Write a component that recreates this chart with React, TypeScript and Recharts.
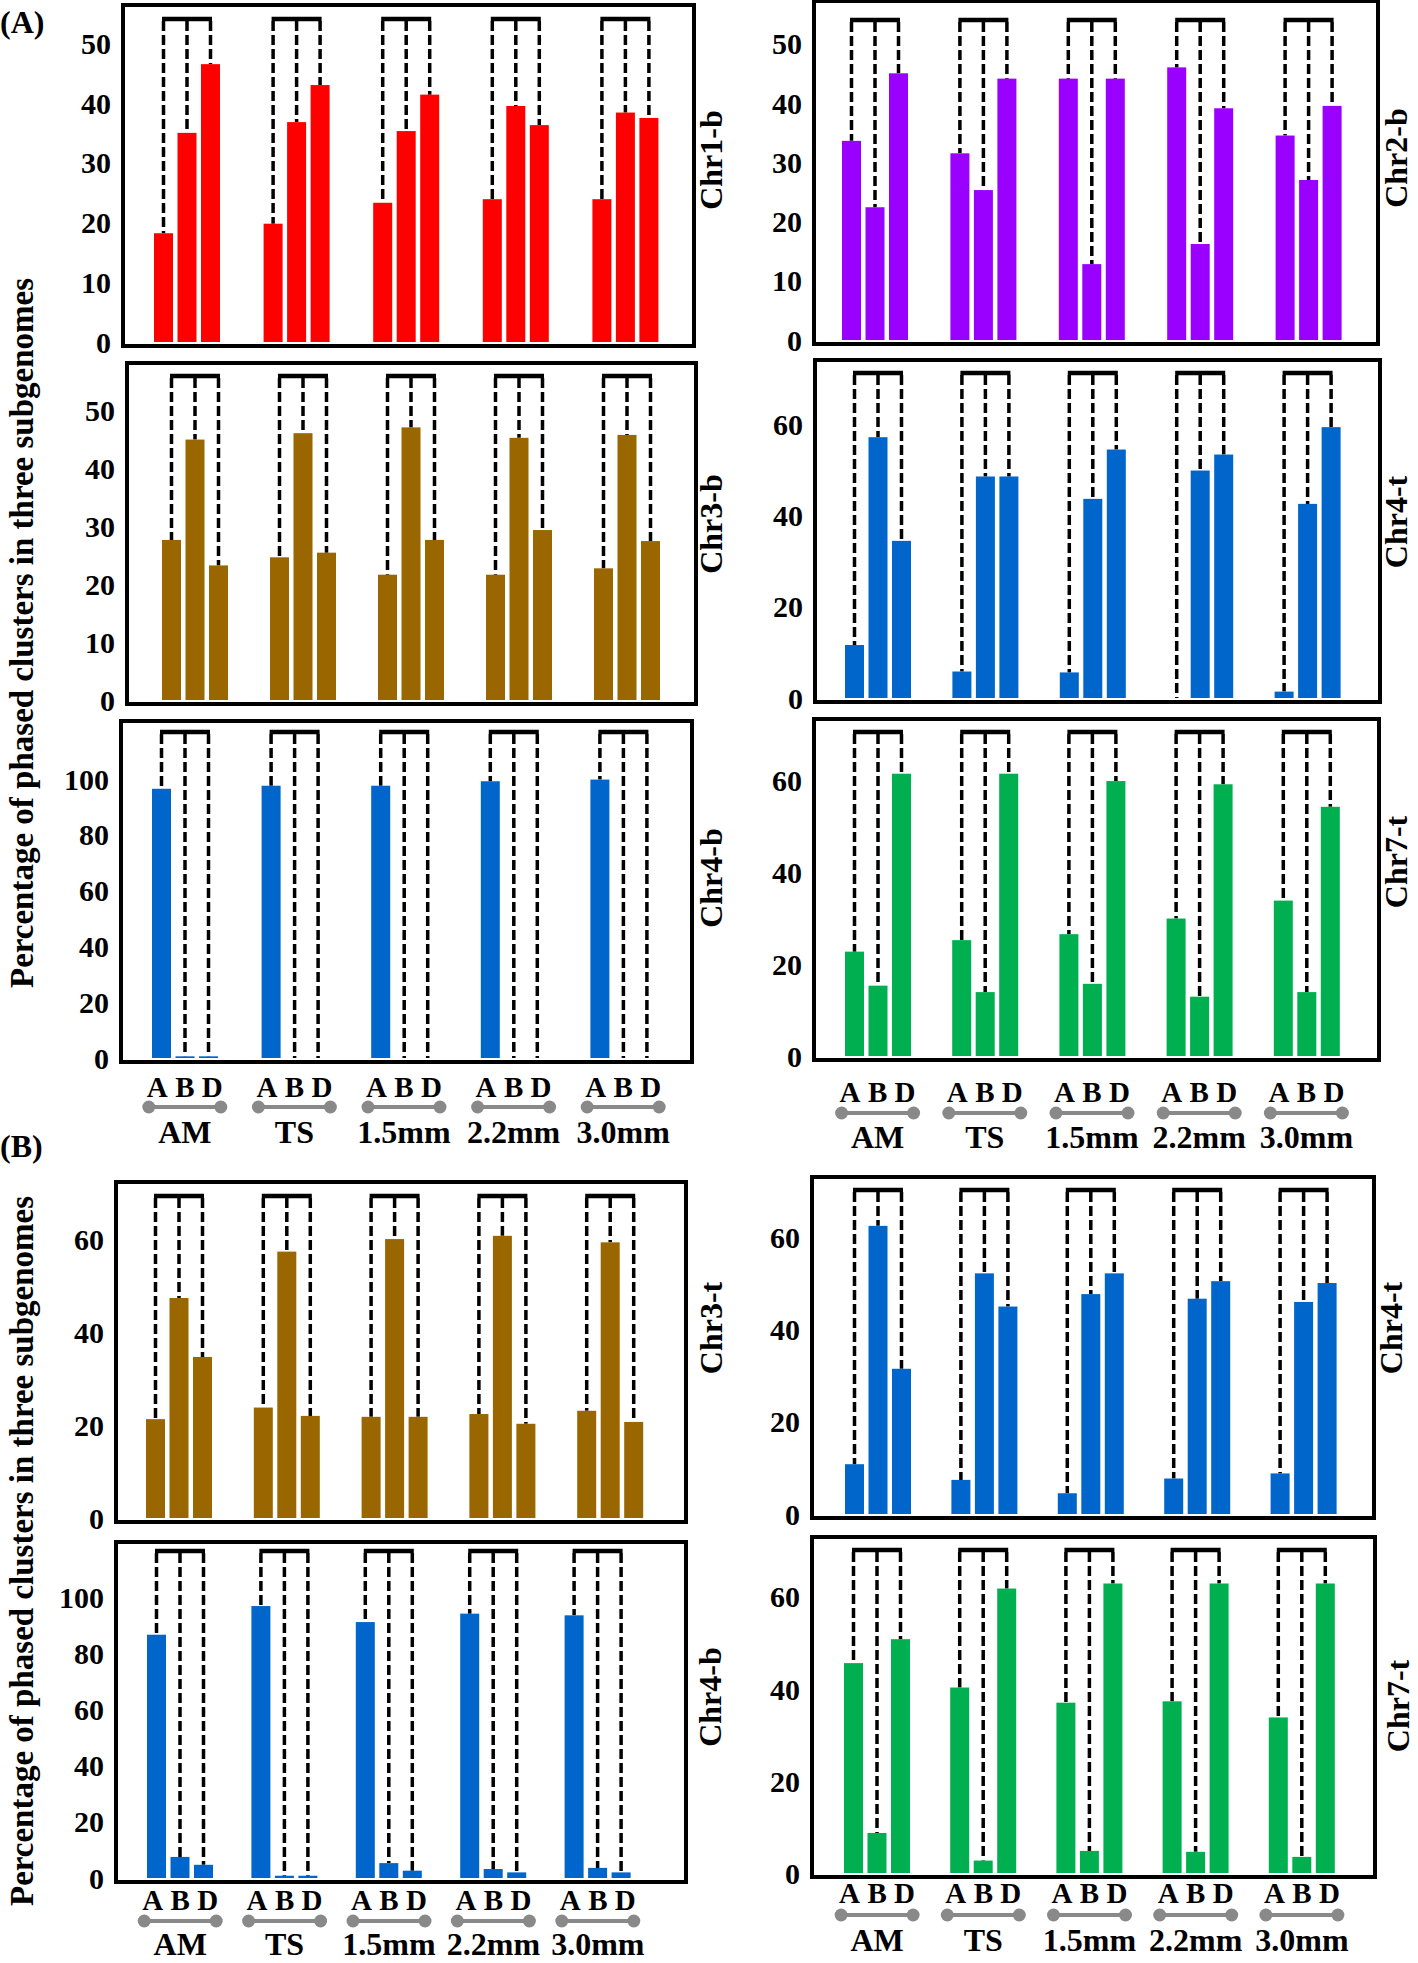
import { BarChart, Bar, XAxis, YAxis } from "recharts";

const FONT = '"Liberation Serif", "Times New Roman", serif';

const groups = ["AM", "TS", "1.5mm", "2.2mm", "3.0mm"];
const subgenomes = ["A", "B", "D"];

// (A) panels
const chr1bA = [18.2, 19.8, 23.3, 23.9, 23.9];
const chr1bB = [35.0, 36.8, 35.3, 39.5, 38.4];
const chr1bD = [46.5, 43.0, 41.4, 36.3, 37.5];

const chr2bA = [33.6, 31.5, 44.1, 46.0, 34.5];
const chr2bB = [22.4, 25.3, 12.8, 16.2, 27.0];
const chr2bD = [45.0, 44.1, 44.1, 39.1, 39.5];

const chr3bA = [27.6, 24.6, 21.6, 21.6, 22.7];
const chr3bB = [44.9, 46.0, 47.0, 45.2, 45.7];
const chr3bD = [23.2, 25.4, 27.6, 29.3, 27.4];

const chr4tA1 = [11.6, 5.8, 5.6, 0, 1.4];
const chr4tB1 = [57.1, 48.5, 43.6, 49.8, 42.5];
const chr4tD1 = [34.4, 48.5, 54.4, 53.3, 59.3];

const chr4bA1 = [96.5, 97.6, 97.6, 99.2, 99.8];
const chr4bB1 = [0.6, 0, 0, 0, 0];
const chr4bD1 = [0.6, 0, 0, 0, 0];

const chr7tA1 = [22.7, 25.2, 26.5, 29.9, 33.8];
const chr7tB1 = [15.3, 13.9, 15.7, 12.9, 13.9];
const chr7tD1 = [61.4, 61.4, 59.8, 59.1, 54.2];

// (B) panels
const chr3tA = [21.3, 23.8, 21.8, 22.4, 23.1];
const chr3tB = [47.4, 57.4, 60.1, 60.8, 59.4];
const chr3tD = [34.7, 22.0, 21.8, 20.3, 20.7];

const chr4tA2 = [10.8, 7.4, 4.5, 7.7, 8.8];
const chr4tB2 = [62.5, 52.2, 47.7, 46.7, 46.0];
const chr4tD2 = [31.5, 45.0, 52.2, 50.5, 50.1];

const chr4bA2 = [86.6, 96.8, 91.1, 94.1, 93.5];
const chr4bB2 = [7.5, 0.8, 5.3, 3.2, 3.6];
const chr4bD2 = [4.7, 0.8, 2.6, 2.0, 2.0];

const chr7tA2 = [45.6, 40.3, 37.0, 37.3, 33.8];
const chr7tB2 = [8.7, 2.7, 4.8, 4.6, 3.5];
const chr7tD2 = [50.8, 61.8, 62.9, 62.9, 62.9];

const ticks50 = [0, 10, 20, 30, 40, 50];
const ticks60 = [0, 20, 40, 60];
const ticks100 = [0, 20, 40, 60, 80, 100];

const RED = "#FF0000";
const PURPLE = "#9900FF";
const BROWN = "#996600";
const BLUE = "#0066CC";
const GREEN = "#00B050";

const BAR = 19;
const GAP = 4.5;
const AXW = 80;

function rows(a: number[], b: number[], d: number[]) {
  return groups.map((g, i) => ({ group: g, A: a[i], B: b[i], D: d[i] }));
}

type XLab = { abd: number; line: number; label: number };
type PanelCfg = {
  name: string; color: string; data: ReturnType<typeof rows>;
  box: [number, number, number, number]; top: number; ticks: number[];
  pad: [number, number]; lead: number; nameAt: [number, number]; xlab?: XLab;
};

const panels: PanelCfg[] = [
  { name: "Chr1-b", color: RED, data: rows(chr1bA, chr1bB, chr1bD), box: [123, 5, 690, 342], top: 56.4, ticks: ticks50, pad: [9, 10], lead: 14, nameAt: [711, 160] },
  { name: "Chr2-b", color: PURPLE, data: rows(chr2bA, chr2bB, chr2bD), box: [814, 1, 1374, 340], top: 57.2, ticks: ticks50, pad: [7, 11], lead: 19, nameAt: [1396, 158] },
  { name: "Chr3-b", color: BROWN, data: rows(chr3bA, chr3bB, chr3bD), box: [127, 363, 692, 700], top: 58.1, ticks: ticks50, pad: [14, 11], lead: 13, nameAt: [711, 524] },
  { name: "Chr4-t", color: BLUE, data: rows(chr4tA1, chr4tB1, chr4tD1), box: [815, 360, 1376, 698], top: 74.0, ticks: ticks60, pad: [9, 15], lead: 13, nameAt: [1396, 522] },
  { name: "Chr4-b", color: BLUE, data: rows(chr4bA1, chr4bB1, chr4bD1), box: [121, 721, 688, 1058], top: 120.8, ticks: ticks100, pad: [9, 10], lead: 11, nameAt: [711, 878], xlab: { abd: 29, line: 49, label: 74 } },
  { name: "Chr7-t", color: GREEN, data: rows(chr7tA1, chr7tB1, chr7tD1), box: [814, 719, 1375, 1056], top: 73.3, ticks: ticks60, pad: [10, 15], lead: 13, nameAt: [1396, 862], xlab: { abd: 36, line: 57, label: 81 } },
  { name: "Chr3-t", color: BROWN, data: rows(chr3tA, chr3tB, chr3tD), box: [116, 1182, 682, 1518], top: 72.4, ticks: ticks60, pad: [9, 18], lead: 14, nameAt: [711, 1328] },
  { name: "Chr4-t", color: BLUE, data: rows(chr4tA2, chr4tB2, chr4tD2), box: [812, 1177, 1370, 1514], top: 73.1, ticks: ticks60, pad: [13, 13], lead: 13, nameAt: [1391, 1328] },
  { name: "Chr4-b", color: BLUE, data: rows(chr4bA2, chr4bB2, chr4bD2), box: [116, 1542, 682, 1878], top: 119.6, ticks: ticks100, pad: [12, 32], lead: 9, nameAt: [710, 1697], xlab: { abd: 22, line: 43, label: 66 } },
  { name: "Chr7-t", color: GREEN, data: rows(chr7tA2, chr7tB2, chr7tD2), box: [812, 1537, 1371, 1873], top: 73.0, ticks: ticks60, pad: [12, 16], lead: 13, nameAt: [1398, 1706], xlab: { abd: 20, line: 42, label: 67 } },
];

// bar + dashed lead line up to the bracket; the middle bar also draws the bracket
function leadShape(lead: number, key: string) {
  return (props: any) => {
    const { x, y, width, height, fill } = props;
    const cx = x + width / 2;
    const span = width + GAP;
    return (
      <g>
        <line x1={cx} x2={cx} y1={lead + 2} y2={y} stroke="#000" strokeWidth={3.5} strokeDasharray="10 4" />
        {key === "B" && (
          <line x1={cx - span - 1.5} x2={cx + span + 1.5} y1={lead} y2={lead} stroke="#000" strokeWidth={4.5} />
        )}
        <rect x={x} y={y} width={width} height={Math.max(height, 0)} fill={fill} />
      </g>
    );
  };
}

function GroupTick(props: any) {
  const { x, y, payload, xlab } = props;
  const lx = y + xlab.line;
  return (
    <g fontFamily={FONT} fontWeight={700} fill="#000">
      {subgenomes.map((s, i) => (
        <text key={s} x={x + (i - 1) * 27.5} y={y + xlab.abd + 10} textAnchor="middle" fontSize={29}>{s}</text>
      ))}
      <line x1={x - 36} x2={x + 36} y1={lx} y2={lx} stroke="#898989" strokeWidth={4} />
      <circle cx={x - 36} cy={lx} r={6.5} fill="#898989" />
      <circle cx={x + 36} cy={lx} r={6.5} fill="#898989" />
      <text x={x} y={y + xlab.label + 11} textAnchor="middle" fontSize={32}>{payload.value}</text>
    </g>
  );
}

function Panel({ p }: { p: PanelCfg }) {
  const [l, t, r, b] = p.box;
  const w = r - l;
  const h = b - t;
  const xh = p.xlab ? 110 : 0;
  const extra = p.xlab ? 0 : 22;
  return (
    <>
      <div style={{ position: "absolute", left: l - AXW, top: t }}>
        <BarChart width={w + AXW} height={h + xh + extra} data={p.data} margin={{ top: 0, right: 0, bottom: extra, left: 0 }}
          barSize={BAR} barGap={GAP}>
          <XAxis dataKey="group" hide={!p.xlab} height={xh} padding={{ left: p.pad[0], right: p.pad[1] }}
            axisLine={false} tickLine={false} tickSize={0} tickMargin={0} interval={0}
            tick={p.xlab ? <GroupTick xlab={p.xlab} /> : false} />
          <YAxis width={AXW} domain={[0, p.top]} ticks={p.ticks} interval={0} allowDataOverflow axisLine={false} tickLine={false}
            tickSize={0} tickMargin={12} tick={{ fontSize: 30, fontWeight: 700, fill: "#000", fontFamily: FONT }} />
          {subgenomes.map((s) => (
            <Bar key={s} dataKey={s} fill={p.color} isAnimationActive={false} shape={leadShape(p.lead, s)} />
          ))}
        </BarChart>
      </div>
      <div style={{ position: "absolute", left: l - 2, top: t - 2, width: w, height: h, border: "4px solid #000", pointerEvents: "none" }} />
      <div style={{ position: "absolute", left: p.nameAt[0], top: p.nameAt[1], transform: "translate(-50%, -50%) rotate(-90deg)", whiteSpace: "nowrap", fontSize: 32, fontWeight: 700 }}>
        {p.name}
      </div>
    </>
  );
}

function VTitle({ cx, cy }: { cx: number; cy: number }) {
  return (
    <div style={{ position: "absolute", left: cx, top: cy, transform: "translate(-50%, -50%) rotate(-90deg)", whiteSpace: "nowrap", fontSize: 33, fontWeight: 700 }}>
      Percentage of phased clusters in three subgenomes
    </div>
  );
}

export default function App() {
  return (
    <div style={{ position: "relative", width: 1418, height: 1963, overflow: "hidden", background: "#fff", fontFamily: FONT, color: "#000" }}>
      <style>{"body{margin:0}"}</style>
      <div style={{ position: "absolute", left: 0, top: 4, fontSize: 32, fontWeight: 700 }}>(A)</div>
      <div style={{ position: "absolute", left: 0, top: 1128, fontSize: 32, fontWeight: 700 }}>(B)</div>
      <VTitle cx={22} cy={633} />
      <VTitle cx={22} cy={1551} />
      {panels.map((p, i) => <Panel key={i} p={p} />)}
    </div>
  );
}
